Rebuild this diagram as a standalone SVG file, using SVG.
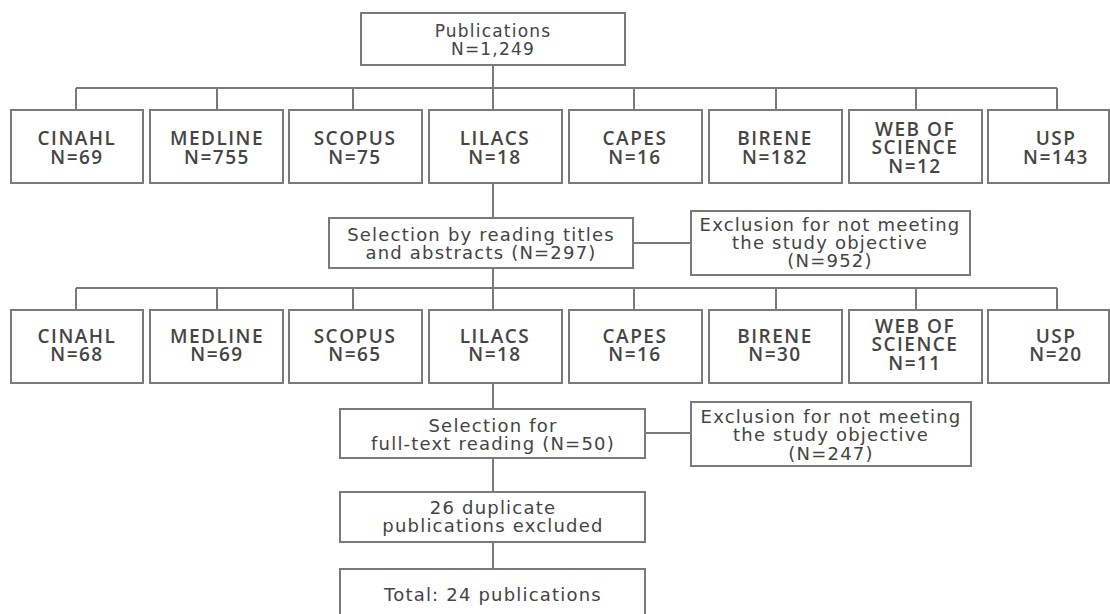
<svg xmlns="http://www.w3.org/2000/svg" width="1110" height="614" viewBox="0 0 1110 614">
<style>
.box{fill:#fff;stroke:#7a7a7a;stroke-width:2}
.ln{fill:none;stroke:#7a7a7a;stroke-width:2}
.t{font-family:"DejaVu Sans","Liberation Sans",sans-serif;font-size:18px;letter-spacing:1.2px;fill:#444;text-anchor:middle}
.tp{font-size:17px}
.db{font-family:"Open Sans","Liberation Sans",sans-serif;font-size:19px;font-weight:600;letter-spacing:1.5px;fill:#454545;text-anchor:middle}
</style>
<rect width="1110" height="614" fill="#fff"/>
<g id="connectors">
<path class="ln" d="M493,65V110M76,88H1057M76,88V110M217,88V110M353,88V110M634,88V110M776,88V110M916,88V110M1057,88V110"/>
<path class="ln" d="M493,183V218M633,243H691M493,268V310M76,288H1057M76,288V310M217,288V310M353,288V310M634,288V310M776,288V310M916,288V310M1057,288V310"/>
<path class="ln" d="M493,383V409M645,433H691M493,458V492M493,542V569"/>
</g>
<g id="publications"><rect class="box" x="361" y="13" width="264" height="52"/><text class="t tp" x="493" y="37">Publications</text><text class="t tp" x="493" y="55">N=1,249</text></g>
<g id="r1-cinahl"><rect class="box" x="11" y="110" width="132" height="73"/><text class="db" x="77" y="145">CINAHL</text><text class="db" x="77" y="164">N=69</text></g>
<g id="r1-medline"><rect class="box" x="150" y="110" width="133" height="73"/><text class="db" x="217" y="145">MEDLINE</text><text class="db" x="217" y="164">N=755</text></g>
<g id="r1-scopus"><rect class="box" x="289" y="110" width="133" height="73"/><text class="db" x="355" y="145">SCOPUS</text><text class="db" x="355" y="164">N=75</text></g>
<g id="r1-lilacs"><rect class="box" x="429" y="110" width="133" height="73"/><text class="db" x="495" y="145">LILACS</text><text class="db" x="495" y="164">N=18</text></g>
<g id="r1-capes"><rect class="box" x="569" y="110" width="133" height="73"/><text class="db" x="635" y="145">CAPES</text><text class="db" x="635" y="164">N=16</text></g>
<g id="r1-birene"><rect class="box" x="709" y="110" width="133" height="73"/><text class="db" x="775" y="145">BIRENE</text><text class="db" x="775" y="164">N=182</text></g>
<g id="r1-wos"><rect class="box" x="849" y="110" width="133" height="73"/><text class="db" x="915" y="136">WEB OF</text><text class="db" x="915" y="154">SCIENCE</text><text class="db" x="915" y="173">N=12</text></g>
<g id="r1-usp"><rect class="box" x="988" y="110" width="121" height="73"/><text class="db" x="1056" y="145">USP</text><text class="db" x="1056" y="164">N=143</text></g>
<g id="selection1"><rect class="box" x="329" y="218" width="304" height="50"/><text class="t" x="481" y="241">Selection by reading titles</text><text class="t" x="481" y="259">and abstracts (N=297)</text></g>
<g id="exclusion1"><rect class="box" x="691" y="211" width="279" height="64"/><text class="t" x="830" y="231">Exclusion for not meeting</text><text class="t" x="830" y="249">the study objective</text><text class="t" x="830" y="267">(N=952)</text></g>
<g id="r2-cinahl"><rect class="box" x="11" y="310" width="132" height="73"/><text class="db" x="77" y="343">CINAHL</text><text class="db" x="77" y="361">N=68</text></g>
<g id="r2-medline"><rect class="box" x="150" y="310" width="133" height="73"/><text class="db" x="217" y="343">MEDLINE</text><text class="db" x="217" y="361">N=69</text></g>
<g id="r2-scopus"><rect class="box" x="289" y="310" width="133" height="73"/><text class="db" x="355" y="343">SCOPUS</text><text class="db" x="355" y="361">N=65</text></g>
<g id="r2-lilacs"><rect class="box" x="429" y="310" width="133" height="73"/><text class="db" x="495" y="343">LILACS</text><text class="db" x="495" y="361">N=18</text></g>
<g id="r2-capes"><rect class="box" x="569" y="310" width="133" height="73"/><text class="db" x="635" y="343">CAPES</text><text class="db" x="635" y="361">N=16</text></g>
<g id="r2-birene"><rect class="box" x="709" y="310" width="133" height="73"/><text class="db" x="775" y="343">BIRENE</text><text class="db" x="775" y="361">N=30</text></g>
<g id="r2-wos"><rect class="box" x="849" y="310" width="133" height="73"/><text class="db" x="915" y="333">WEB OF</text><text class="db" x="915" y="351">SCIENCE</text><text class="db" x="915" y="370">N=11</text></g>
<g id="r2-usp"><rect class="box" x="988" y="310" width="121" height="73"/><text class="db" x="1056" y="343">USP</text><text class="db" x="1056" y="361">N=20</text></g>
<g id="selection2"><rect class="box" x="340" y="409" width="305" height="49"/><text class="t" x="493" y="432">Selection for</text><text class="t" x="493" y="450">full-text reading (N=50)</text></g>
<g id="exclusion2"><rect class="box" x="691" y="402" width="280" height="64"/><text class="t" x="831" y="423">Exclusion for not meeting</text><text class="t" x="831" y="441">the study objective</text><text class="t" x="831" y="460">(N=247)</text></g>
<g id="duplicates"><rect class="box" x="340" y="492" width="305" height="50"/><text class="t" x="493" y="514">26 duplicate</text><text class="t" x="493" y="532">publications excluded</text></g>
<g id="total"><rect class="box" x="340" y="569" width="305" height="48"/><text class="t" x="493" y="601">Total: 24 publications</text></g>
</svg>
